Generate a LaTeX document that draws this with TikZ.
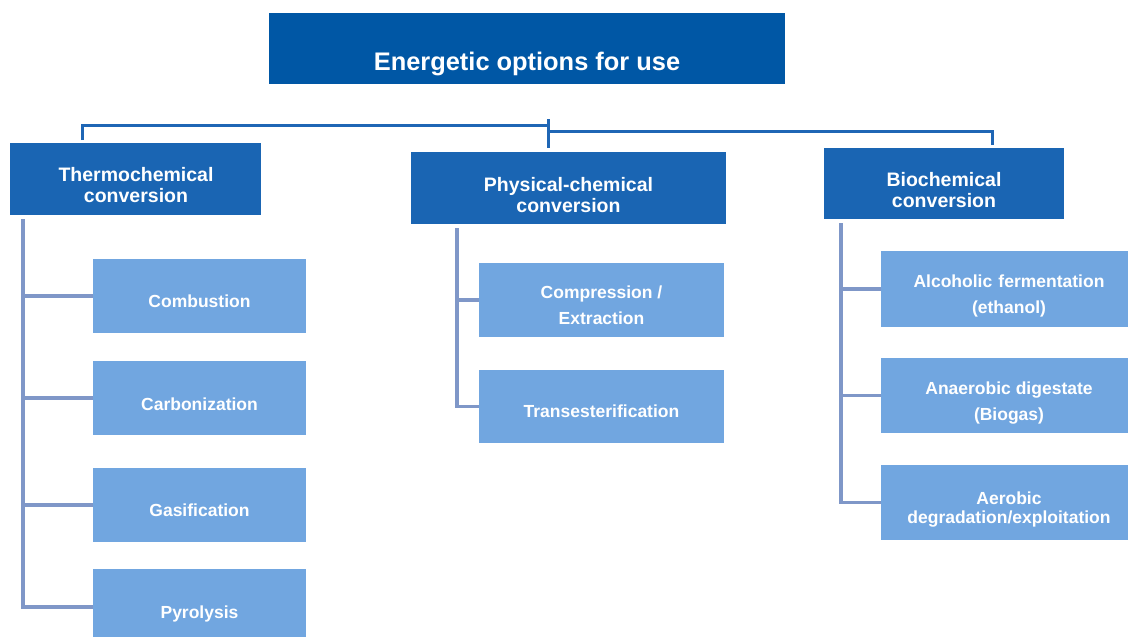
\documentclass[tikz,border=0pt]{standalone}
\usepackage{fontspec}
\setmainfont{Liberation Sans}
\definecolor{titleblue}{HTML}{0057A5}
\definecolor{catblue}{HTML}{1A65B3}
\definecolor{subblue}{HTML}{71A6E0}
\definecolor{brk}{HTML}{1F66B5}
\definecolor{conngray}{HTML}{7F97C8}
\begin{document}
\begin{tikzpicture}[x=1pt,y=-1pt,
  box/.style={anchor=north west, inner sep=0pt, outer sep=0pt, draw=none},
  titlebox/.style={box, fill=titleblue},
  catbox/.style={box, fill=catblue},
  subbox/.style={box, fill=subblue},
  txt/.style={text=white, inner sep=0pt, align=center, anchor=base},
  titletxt/.style={txt, font=\fontsize{25.4}{28}\selectfont\bfseries},
  cattxt/.style={txt, font=\fontsize{19.5}{21}\selectfont\bfseries},
  subtxt/.style={txt, font=\fontsize{17.5}{26}\selectfont\bfseries},
  bracket/.style={draw=brk, line width=3pt},
  conn/.style={draw=conngray, line width=3.2pt}
]
\useasboundingbox (0,0) rectangle (1128,637);

% title
\node[titlebox, minimum width=516pt, minimum height=71pt] (title) at (269,13) {};
\node[titletxt] (titlet) at (527,70.5) {Energetic options for use};

% category boxes
\node[catbox, minimum width=251pt, minimum height=72pt] (thermo) at (10,143) {};
\node[cattxt] (thermot) at (136,202.7) {Thermochemical\\conversion};
\node[catbox, minimum width=315pt, minimum height=72pt] (phys) at (411,152) {};
\node[cattxt] (physt) at (568.5,212) {Physical-chemical\\conversion};
\node[catbox, minimum width=240pt, minimum height=71pt] (bio) at (824,148) {};
\node[cattxt] (biot) at (944,207.7) {Biochemical\\conversion};

% sub boxes, left
\node[subbox, minimum width=213pt, minimum height=74pt] (comb) at (93,259) {};
\node[subtxt] (combt) at (199.5,307.7) {Combustion};
\node[subbox, minimum width=213pt, minimum height=74pt] (carb) at (93,361) {};
\node[subtxt] (carbt) at (199.5,410) {Carbonization};
\node[subbox, minimum width=213pt, minimum height=74pt] (gasi) at (93,468) {};
\node[subtxt] (gasit) at (199.5,516) {Gasification};
\node[subbox, minimum width=213pt, minimum height=76pt] (pyro) at (93,569) {};
\node[subtxt] (pyrot) at (199.5,618) {Pyrolysis};

% sub boxes, middle
\node[subbox, minimum width=245pt, minimum height=74pt] (comp) at (479,263) {};
\node[subtxt] (compt) at (601.5,324) {Compression /\\Extraction};
\node[subbox, minimum width=245pt, minimum height=73pt] (trans) at (479,370) {};
\node[subtxt] (transt) at (601.5,417.7) {Transesterification};

% sub boxes, right
\node[subbox, minimum width=256pt, minimum height=76pt] (alc) at (881,251) {};
\node[subtxt] (alct) at (1009,313.5) {Alcoholic\hspace{0.35em}fermentation\\(ethanol)};
\node[subbox, minimum width=256pt, minimum height=75pt] (anae) at (881,358) {};
\node[subtxt] (anaet) at (1009,420.5) {Anaerobic digestate\\(Biogas)};
\node[subbox, minimum width=256pt, minimum height=75pt] (aero) at (881,465) {};
\node[subtxt, font=\fontsize{17.5}{18.7}\selectfont\bfseries] (aerot) at (1009,523.5) {Aerobic\\degradation/exploitation};

% top bracket
\coordinate (hubtop) at (548,119);
\coordinate (hubbot) at (548,148);
\coordinate (lcorner) at (82,125);
\coordinate (ldrop) at (82,140);
\coordinate (lhub) at (548,125);
\coordinate (rhub) at (548,131);
\coordinate (rcorner) at (992,131);
\coordinate (rdrop) at (992,145);
\draw[bracket] (hubtop) -- (hubbot);
\draw[bracket] (ldrop) -- (lcorner) -- (lhub);
\draw[bracket] (rhub) -- (rcorner) -- (rdrop);

% spines
\coordinate (lspine) at (23,219);
\coordinate (mspine) at (457,228);
\coordinate (rspine) at (841,223);
\draw[conn] (lspine) |- (pyro.west);
\draw[conn] (lspine) |- (comb.west);
\draw[conn] (lspine) |- (carb.west);
\draw[conn] (lspine) |- (gasi.west);
\draw[conn] (mspine) |- (trans.west);
\draw[conn] (mspine) |- (comp.west);
\draw[conn] (rspine) |- (aero.west);
\draw[conn] (rspine) |- (alc.west);
\draw[conn] (rspine) |- (anae.west);
\end{tikzpicture}
\end{document}
